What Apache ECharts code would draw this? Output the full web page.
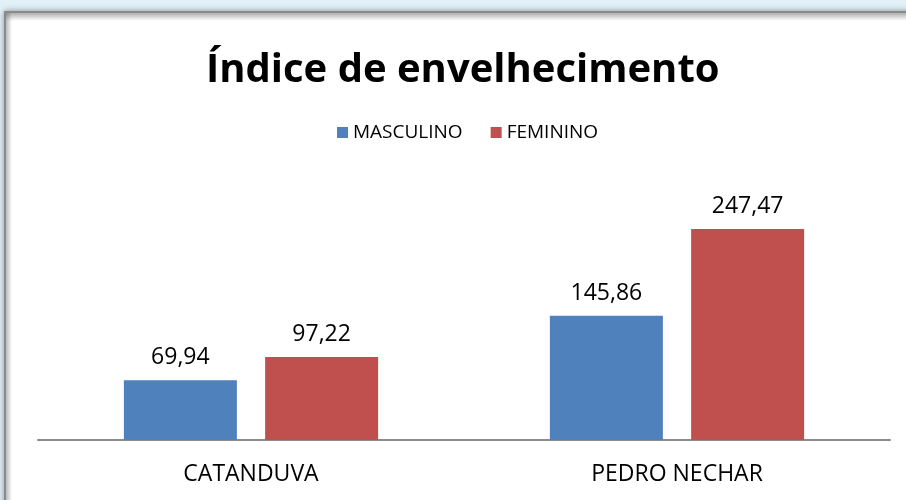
<!DOCTYPE html>
<html><head><meta charset="utf-8">
<script src="https://cdn.jsdelivr.net/npm/echarts@6/dist/echarts.min.js"></script>
<style>html,body{margin:0;padding:0;background:#e2f1f8;}#c{width:906px;height:500px;}</style>
</head><body><div id="c"></div>
<script>
const categories = ['CATANDUVA', 'PEDRO NECHAR'];
const masculino = [69.94, 145.86];
const feminino = [97.22, 247.47];
const seriesNames = ['MASCULINO', 'FEMININO'];

const chart = echarts.init(document.getElementById('c'));
const fmt = p => p.value.toFixed(2).replace('.', ',');
const font = 'Open Sans';
chart.setOption({
  backgroundColor: 'transparent',
  animation: false,
  graphic: [
    {type: 'rect', z: -10, shape: {x: 5, y: 12, width: 910, height: 500},
     style: {fill: '#ffffff', stroke: '#8a8a8a', lineWidth: 2, shadowBlur: 6, shadowColor: 'rgba(0,0,0,0.35)', shadowOffsetX: 0, shadowOffsetY: 0}},
    {type: 'rect', z: -9, shape: {x: 6, y: 13, width: 910, height: 8},
     style: {fill: {type: 'linear', x: 0, y: 0, x2: 0, y2: 1, colorStops: [{offset: 0, color: 'rgba(0,0,0,0.25)'}, {offset: 1, color: 'rgba(0,0,0,0)'}]}}},
    {type: 'rect', z: -9, shape: {x: 6, y: 13, width: 6, height: 500},
     style: {fill: {type: 'linear', x: 0, y: 0, x2: 1, y2: 0, colorStops: [{offset: 0, color: 'rgba(0,0,0,0.2)'}, {offset: 1, color: 'rgba(0,0,0,0)'}]}}}
  ],
  title: {
    text: 'Índice de envelhecimento', left: 201, top: 46,
    textStyle: {fontFamily: font, fontWeight: 'bold', fontSize: 40, color: '#000'}
  },
  legend: {
    data: seriesNames, top: 118, left: 332, itemWidth: 11, itemHeight: 11, itemGap: 28,
    icon: 'rect', textStyle: {fontFamily: font, fontSize: 19, color: '#000'}
  },
  grid: {left: 38, right: 16, top: 440 - 300 * 211 / 247.47, bottom: 60},
  xAxis: {
    type: 'category', data: categories,
    axisLine: {lineStyle: {color: '#8c8c8c', width: 2}},
    axisTick: {show: false},
    axisLabel: {fontFamily: font, fontSize: 23, color: '#000', margin: 23}
  },
  yAxis: {type: 'value', min: 0, max: 300, show: false, splitLine: {show: false}},
  series: [
    {name: seriesNames[0], type: 'bar', data: masculino, barWidth: 113, barGap: '25%',
     itemStyle: {color: '#4f81bd'},
     label: {show: true, position: 'top', distance: 11, formatter: fmt, fontFamily: font, fontSize: 23, color: '#000'}},
    {name: seriesNames[1], type: 'bar', data: feminino, barWidth: 113,
     itemStyle: {color: '#c0504d'},
     label: {show: true, position: 'top', distance: 11, formatter: fmt, fontFamily: font, fontSize: 23, color: '#000'}}
  ]
});
</script></body></html>
